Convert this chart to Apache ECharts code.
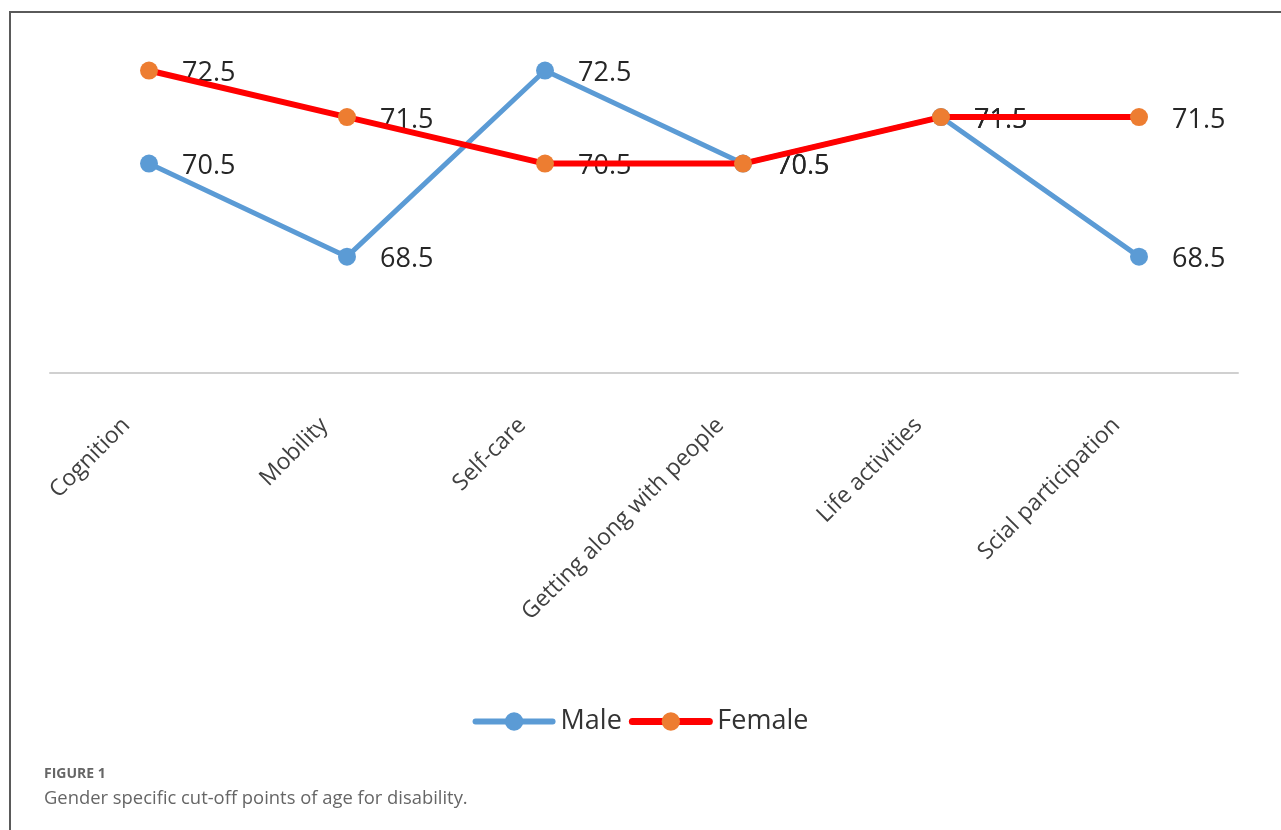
<!DOCTYPE html>
<html>
<head>
<meta charset="utf-8">
<script src="https://cdn.jsdelivr.net/npm/echarts@6/dist/echarts.min.js"></script>
<style>
  html, body { margin: 0; padding: 0; background: #ffffff; }
  #chart { position: absolute; left: 0; top: 0; width: 1281px; height: 830px; }
  #frame { position: absolute; left: 9px; top: 11px; width: 1272px; height: 819px;
           border-left: 2px solid #5a5a5a; border-top: 2px solid #5a5a5a; pointer-events: none; box-sizing: border-box; }
  #fig { position: absolute; left: 44px; top: 763px; font-family: "Open Sans", sans-serif; font-weight: bold;
         font-size: 14px; color: #666; }
  #cap { position: absolute; left: 44px; top: 784px; font-family: "Open Sans", sans-serif;
         font-size: 18.4px; color: #666; }
</style>
</head>
<body>
<div id="chart"></div>
<div id="frame"></div>
<div id="fig">FIGURE 1</div>
<div id="cap">Gender specific cut-off points of age for disability.</div>
<script>
const categories = ['Cognition', 'Mobility', 'Self-care', 'Getting along with people', 'Life activities', 'Scial participation'];
const maleValues = [70.5, 68.5, 72.5, 70.5, 71.5, 68.5];
const femaleValues = [72.5, 71.5, 70.5, 70.5, 71.5, 71.5];
const seriesNames = ['Male', 'Female'];

const MALE_BLUE = '#5b9bd5';
const FEMALE_RED = '#ff0000';
const FEMALE_ORANGE = '#ed7d31';
const FONT = '"Open Sans", sans-serif';

const chart = echarts.init(document.getElementById('chart'), null, { renderer: 'canvas' });

function labelSeries(name, values) {
  return {
    name: name, type: 'line', data: values, z: 1, silent: true,
    symbol: 'circle', symbolSize: 18,
    itemStyle: { color: 'rgba(0,0,0,0)' }, lineStyle: { color: 'rgba(0,0,0,0)', width: 0 },
    label: { show: true, position: 'right', distance: 24, offset: [0, 3], color: '#262626',
             fontFamily: FONT, fontSize: 27, opacity: 1 },
    emphasis: { disabled: true }
  };
}

chart.setOption({
  animation: false,
  grid: { left: 50, right: 43, top: 24, height: 349 },
  legend: {
    data: [
      { name: 'Male', lineStyle: { width: 6, cap: 'round' } },
      { name: 'Female', lineStyle: { width: 7, cap: 'round' } }
    ],
    left: 'center', top: 703, itemWidth: 77, itemHeight: 23, itemGap: 7,
    textStyle: { fontFamily: FONT, fontSize: 27, color: '#333', padding: [0, 0, 0, 3] }
  },
  xAxis: {
    type: 'category', data: categories, boundaryGap: true,
    axisLine: { lineStyle: { color: '#d0d0d0', width: 2 } },
    axisTick: { show: false },
    axisLabel: { interval: 0, rotate: 45, margin: 26, padding: [0, 32, 64, 0],
                 fontFamily: FONT, fontSize: 23, color: '#404040' }
  },
  yAxis: { type: 'value', min: 66, max: 73.5, show: false, splitLine: { show: false } },
  series: [
    labelSeries('MaleLabels', maleValues),
    labelSeries('FemaleLabels', femaleValues),
    {
      name: 'Male', type: 'line', data: maleValues, z: 2,
      symbol: 'circle', symbolSize: 18,
      itemStyle: { color: MALE_BLUE }, lineStyle: { color: MALE_BLUE, width: 5 }
    },
    {
      name: 'Female', type: 'line', data: femaleValues, z: 3,
      symbol: 'circle', symbolSize: 18,
      itemStyle: { color: FEMALE_ORANGE }, lineStyle: { color: FEMALE_RED, width: 6 }
    }
  ]
});
</script>
</body>
</html>
